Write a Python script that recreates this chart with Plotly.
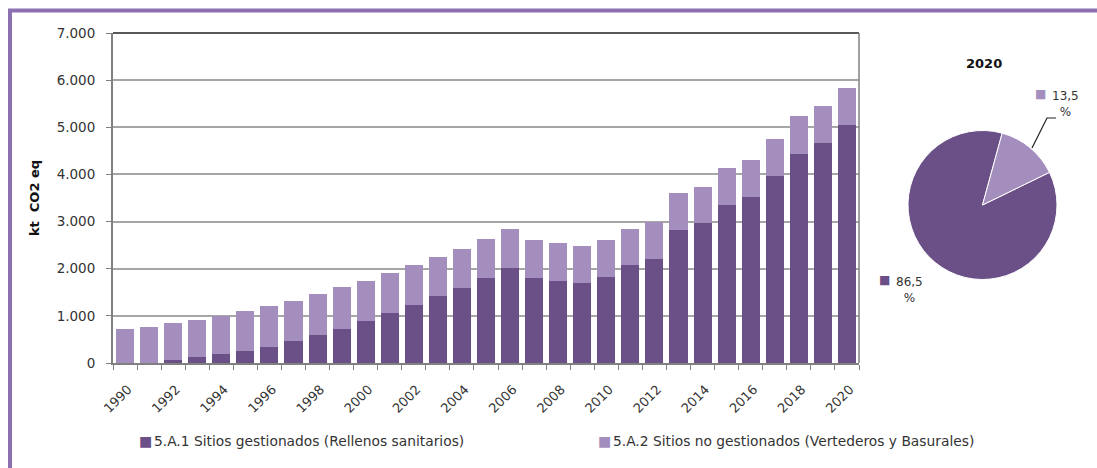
import plotly.graph_objects as go

years = list(range(1990, 2021))
gestionados = [0, 0, 57, 120, 191, 255, 347, 467, 601, 728, 884, 1068, 1231, 1421, 1584,
               1803, 2023, 1803, 1733, 1704, 1832, 2086, 2214, 2815, 2977, 3359, 3515, 3967,
               4441, 4668, 5045]
totales = [728, 771, 842, 919, 1004, 1096, 1202, 1322, 1471, 1612, 1747, 1909, 2079, 2242, 2412,
           2635, 2843, 2617, 2546, 2482, 2603, 2843, 2999, 3607, 3741, 4144, 4300, 4760,
           5233, 5460, 5834]
no_gestionados = [t - g for t, g in zip(totales, gestionados)]
tick_years = list(range(1990, 2021, 2))
y_ticks = [0, 1000, 2000, 3000, 4000, 5000, 6000, 7000]
series_names = ["5.A.1 Sitios gestionados (Rellenos sanitarios)",
                "5.A.2 Sitios no gestionados (Vertederos y Basurales)"]
pie_year = "2020"
pie_values = [gestionados[-1], no_gestionados[-1]]

DARK = "#6A5087"
LIGHT = "#A38EBD"
BORDER = "#8C70B0"
FONT = "DejaVu Sans"
TXT = "#333333"

W, H = 1097, 468
ML, MR, MT, MB = 113, 20, 33, 105
PW, PH = W - ML - MR, H - MT - MB


def px(x):
    return (x - ML) / PW


def py(y):
    return (H - MB - y) / PH


def ann(text, x, y, size=12, color=TXT, xanchor="center"):
    return dict(text=text, x=px(x), y=py(y), xref="paper", yref="paper", showarrow=False,
                xanchor=xanchor, yanchor="middle", font=dict(size=size, color=color, family=FONT))


fig = go.Figure()
fig.add_trace(go.Bar(x=years, y=gestionados, name=series_names[0],
                     marker=dict(color=DARK, line=dict(width=0)), width=0.75))
fig.add_trace(go.Bar(x=years, y=no_gestionados, name=series_names[1],
                     marker=dict(color=LIGHT, line=dict(width=0)), width=0.75))

fig.add_trace(go.Pie(values=pie_values, labels=series_names, sort=False, direction="clockwise",
                     rotation=64, marker=dict(colors=[DARK, LIGHT], line=dict(color="white", width=1)),
                     textinfo="none", showlegend=False, hoverinfo="label+percent",
                     domain=dict(x=[px(908), px(1057)], y=[py(280), py(130)])))

tot = sum(pie_values)
pct = [v / tot * 100 for v in pie_values]
lab = [f"{p:.1f}".replace(".", ",") for p in pct]

annotations = [
    ann("<b>" + pie_year + "</b>", 984, 63, size=13, color="#111"),
    ann("■", 1040, 94, size=12, color=LIGHT),
    ann(lab[1] + "<br>%", 1065, 104),
    ann("■", 884, 280, size=12, color=DARK),
    ann(lab[0] + "<br>%", 909, 290),
    # legend
    ann("■", 145.5, 441, size=14, color=DARK),
    ann(series_names[0], 152, 441, size=13.8, xanchor="left"),
    ann("■", 604.5, 441, size=14, color=LIGHT),
    ann(series_names[1], 611, 441, size=13.8, xanchor="left"),
]

shapes = [
    # outer frame
    dict(type="line", xref="paper", yref="paper", x0=px(8), x1=px(1100), y0=py(10.5), y1=py(10.5),
         line=dict(color=BORDER, width=4)),
    dict(type="line", xref="paper", yref="paper", x0=px(10), x1=px(10), y0=py(9), y1=py(470),
         line=dict(color=BORDER, width=4)),
    # plot frame top and right
    dict(type="line", xref="paper", yref="paper", x0=0, x1=px(859), y0=1, y1=1,
         line=dict(color="#222", width=1.5)),
    dict(type="line", xref="paper", yref="paper", x0=px(859), x1=px(859), y0=0, y1=1,
         line=dict(color="#808080", width=1.5)),
    # pie leader line
    dict(type="path", xref="paper", yref="paper",
         path=f"M {px(1032)} {py(148)} L {px(1047)} {py(118)} L {px(1056)} {py(118)}",
         line=dict(color="#222", width=1.2)),
]

fig.update_layout(
    barmode="stack",
    width=W, height=H,
    margin=dict(l=ML, r=MR, t=MT, b=MB, pad=0, autoexpand=False),
    paper_bgcolor="white", plot_bgcolor="white",
    separators=",.",
    font=dict(family=FONT, size=12, color=TXT),
    xaxis=dict(domain=[0, px(859)], range=[1989.5, 2020.5], tickvals=tick_years, ticks="",
               tickangle=-45, tickfont=dict(size=13, color=TXT), showgrid=False,
               ticklabelstandoff=12, ticklabelshift=3,
               showline=True, linecolor="#808080", linewidth=1.5,
               minor=dict(tick0=1989.5, dtick=1, ticks="outside", ticklen=5, tickcolor="#808080",
                          tickwidth=1, showgrid=False)),
    yaxis=dict(range=[0, 7000], tickvals=y_ticks, tickformat=",d", ticks="outside", ticklen=5,
               tickcolor="#808080", tickfont=dict(size=13.5, color=TXT), ticklabelstandoff=8,
               showgrid=True, gridcolor="#A6A6A6", gridwidth=1.5,
               showline=True, linecolor="#808080", linewidth=2, zeroline=False,
               title=dict(text="<b>kt  CO2 eq</b>", font=dict(size=13, color="#111"), standoff=14)),
    annotations=annotations,
    shapes=shapes,
    showlegend=False,
)

fig.write_html("out.html", config={"displayModeBar": False},
               post_script="document.body.style.margin='0';")
